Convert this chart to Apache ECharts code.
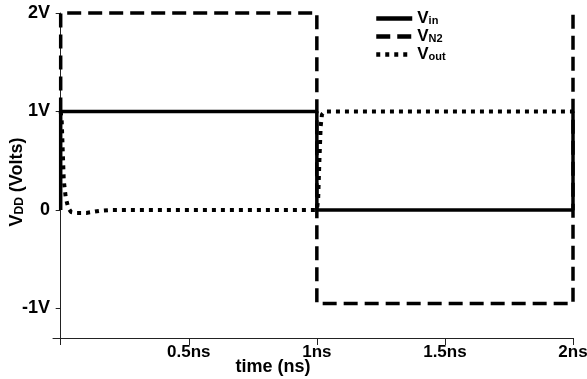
<!DOCTYPE html>
<html>
<head>
<meta charset="utf-8">
<script src="https://cdn.jsdelivr.net/npm/echarts@6/dist/echarts.min.js"></script>
<style>
  html, body { margin: 0; padding: 0; background: #fff; }
  #chart { width: 587px; height: 379px; }
</style>
</head>
<body>
<div id="chart"></div>
<script>
// Time points (ns) and voltages (V) for each trace
const vinTime = [0, 0, 1, 1, 2, 2];
const vinVolt = [0, 1, 1, 0, 0, 1];

const vn2Time = [0, 0, 1, 1, 2, 2];
const vn2Volt = [1, 2, 2, -0.95, -0.95, 2];

const voutTime = [0, 0.004, 0.008, 0.012, 0.02, 0.03, 0.04, 0.06, 0.1, 0.15, 0.2, 1.0, 1.005, 1.01, 1.015, 1.02, 1.03, 2];
const voutVolt = [1, 0.9, 0.6, 0.3, 0.12, 0.02, -0.02, -0.03, -0.03, -0.01, 0, 0, 0.1, 0.5, 0.85, 0.97, 1.0, 1.0];

const xTicks = [0.5, 1, 1.5, 2];
const yTicks = [-1, 0, 1, 2];

const seriesNames = ['Vin', 'VN2', 'Vout'];
const seriesSubs = ['in', 'N2', 'out'];

const pairs = (t, v) => t.map((x, i) => [x, v[i]]);

const font = 'Liberation Sans, Arial, sans-serif';
const boldText = size => ({ fontFamily: font, fontWeight: 'bold', fontSize: size, color: '#000' });

const chart = echarts.init(document.getElementById('chart'));
chart.setOption({
  animation: false,
  backgroundColor: '#fff',
  grid: { left: 53, right: 14, top: 13, bottom: 41, containLabel: false, outerBoundsMode: 'none' },
  // axis titles placed as free text so they can sit close to the tick labels
  graphic: [
    {
      type: 'text', x: 273, y: 367,
      style: { text: 'time (ns)', align: 'center', verticalAlign: 'middle', fill: '#000', font: 'bold 18px ' + font }
    },
    {
      type: 'text', x: 17, y: 182, rotation: Math.PI / 2,
      style: {
        text: '{b|V}{s|DD}{b| (Volts)}', align: 'center', verticalAlign: 'middle',
        rich: {
          b: { fontFamily: font, fontWeight: 'bold', fontSize: 18, fill: '#000' },
          s: { fontFamily: font, fontWeight: 'bold', fontSize: 12, fill: '#000', padding: [6, 0, 0, 0] }
        }
      }
    }
  ],
  xAxis: {
    type: 'value',
    min: -0.03,
    max: 2,
    axisLine: { onZero: false, lineStyle: { color: '#222', width: 1 } },
    axisTick: { show: true, customValues: [0].concat(xTicks), length: 7, lineStyle: { color: '#222' } },
    axisLabel: Object.assign({ customValues: xTicks, formatter: v => v + 'ns', margin: 6 }, boldText(17)),
    splitLine: { show: false }
  },
  yAxis: {
    type: 'value',
    min: -1.3,
    max: 2,
    axisLine: { onZero: true, lineStyle: { color: '#222', width: 1 } },
    axisTick: { show: true, customValues: yTicks, length: 5, lineStyle: { color: '#222' } },
    axisLabel: Object.assign({ customValues: yTicks, formatter: v => (v === 0 ? '0' : v + 'V'), margin: 3 }, boldText(18)),
    splitLine: { show: false }
  },
  legend: {
    orient: 'vertical',
    left: 369,
    top: 5,
    itemWidth: 36,
    itemHeight: 14,
    itemGap: 1,
    data: seriesNames,
    itemStyle: { opacity: 0 },
    lineStyle: { width: 4.5 },
    formatter: name => '{b|V}{s|' + seriesSubs[seriesNames.indexOf(name)] + '}',
    textStyle: Object.assign(boldText(17), {
      rich: {
        b: Object.assign(boldText(17), { lineHeight: 17 }),
        s: Object.assign(boldText(11), { lineHeight: 12, padding: [5, 0, 0, 0] })
      }
    })
  },
  series: [
    {
      name: 'Vin', type: 'line', symbol: 'none', clip: false, z: 3, color: '#000',
      data: pairs(vinTime, vinVolt),
      lineStyle: { color: '#000', width: 3.5, type: 'solid' }
    },
    {
      name: 'VN2', type: 'line', symbol: 'none', clip: false, z: 2, color: '#000',
      data: pairs(vn2Time, vn2Volt),
      lineStyle: { color: '#000', width: 3.5, type: [14, 7] }
    },
    {
      name: 'Vout', type: 'line', symbol: 'none', clip: false, z: 4, color: '#000',
      data: pairs(voutTime, voutVolt),
      lineStyle: { color: '#000', width: 4, type: [4, 5] }
    }
  ]
});
</script>
</body>
</html>
